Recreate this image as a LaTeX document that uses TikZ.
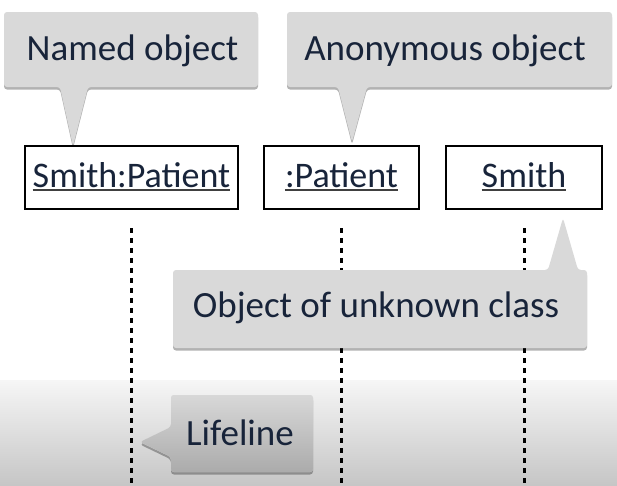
\documentclass[tikz,border=0pt]{standalone}
\usepackage{fontspec}
\setmainfont{Carlito}
\usetikzlibrary{shadows}
\definecolor{calloutgray}{HTML}{D9D9D9}
\definecolor{inknavy}{HTML}{18243A}
\definecolor{bgtop}{HTML}{F6F6F6}
\definecolor{bgbottom}{HTML}{C6C6C6}
\definecolor{lftop}{HTML}{D8D8D8}
\definecolor{lfbottom}{HTML}{ABABAB}
\begin{document}
\begin{tikzpicture}[x=1pt,y=-1pt,
  calloutshape/.style={fill=calloutgray, rounded corners=3pt,
    drop shadow={shadow xshift=0pt, shadow yshift=-2.5pt, opacity=0.3, fill=black}},
  callouttext/.style={anchor=base, inner sep=0pt, text=inknavy, font=\fontsize{37}{40}\selectfont},
  objbox/.style={draw=black, line width=2.5pt, fill=white, minimum height=63pt, inner sep=0pt},
  objtext/.style={anchor=base, inner sep=0pt, text=inknavy, font=\fontsize{36}{39}\selectfont},
  uline/.style={draw=black!75, line width=1.8pt},
  lifeline/.style={line width=3pt, dash pattern=on 5pt off 5pt, shorten <=18pt}
]
\useasboundingbox (0,0) rectangle (617,485);
\fill[white] (0,0) rectangle (617,485);
\shade[top color=bgtop, bottom color=bgbottom] (0,380) rectangle (617,485);

% object boxes
\node[objbox, minimum width=213pt] (b1) at (131.5,177.5) {};
\node[objbox, minimum width=155pt] (b2) at (341.5,177.5) {};
\node[objbox, minimum width=156pt] (b3) at (524,177.5) {};

% lifelines
\coordinate (e1) at (131.5,485);
\coordinate (e2) at (341.5,485);
\coordinate (e3) at (524,485);
\draw[lifeline] (b1.south) -- (e1);
\draw[lifeline] (b2.south) -- (e2);
\draw[lifeline] (b3.south) -- (e3);

% object labels
\node[objtext] (t1) at (131.5,187) {Smith:Patient};
\node[objtext] (t2) at (341.5,187) {:Patient};
\node[objtext] (t3) at (524,187) {Smith};
\draw[uline] ([yshift=-3pt]t1.base west) -- ([yshift=-3pt]t1.base east);
\draw[uline] ([yshift=-3pt]t2.base west) -- ([yshift=-3pt]t2.base east);
\draw[uline] ([yshift=-3pt]t3.base west) -- ([yshift=-3pt]t3.base east);

% callouts
\path[calloutshape] (4,12) -- (258,12) -- (258,87) -- (88,87) -- (73,146) -- (60,87) -- (4,87) -- cycle;
\path[calloutshape] (287,12) -- (612,12) -- (612,87) -- (367,87) -- (352,142) -- (338,87) -- (287,87) -- cycle;
\path[calloutshape] (173,270) -- (548,270) -- (563,218) -- (578,270) -- (587,270) -- (587,348) -- (173,348) -- cycle;
\path[calloutshape, top color=lftop, bottom color=lfbottom] (171,395) -- (313,395) -- (313,472) -- (171,472) -- (171,457) -- (140,442) -- (171,427) -- cycle;

\node[callouttext] (c1) at (132.5,60) {Named object};
\node[callouttext] (c2) at (445,60) {Anonymous object};
\node[callouttext] (c3) at (376,317) {Object of unknown class};
\node[callouttext] (c4) at (240,445) {Lifeline};
\end{tikzpicture}
\end{document}
